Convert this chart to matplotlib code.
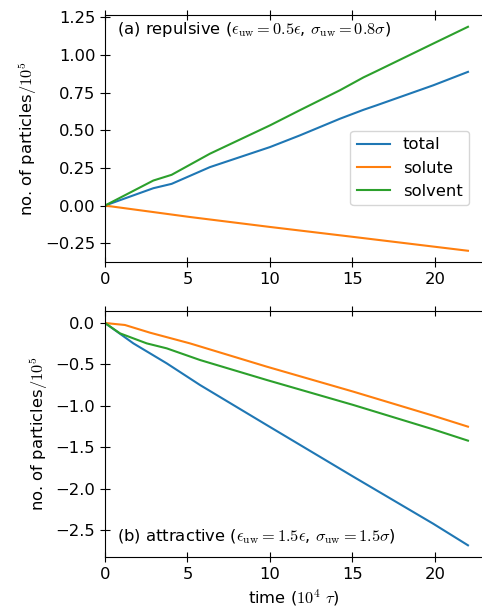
import matplotlib
matplotlib.use('Agg')
import matplotlib.pyplot as plt

plt.rcParams['mathtext.fontset'] = 'cm'
plt.rcParams['font.size'] = 11.8

# (a) repulsive wall
t_rep = [0, 2.93, 4.04, 6.36, 10.0, 11.8, 14.24, 15.66, 16.46, 19.9, 22.0]
total_rep = [0, 0.115, 0.144, 0.255, 0.388, 0.465, 0.576, 0.635, 0.665, 0.798, 0.887]
solvent_rep = [0, 0.166, 0.204, 0.344, 0.532, 0.632, 0.765, 0.850, 0.892, 1.075, 1.186]
t_rep_solute = [0, 5.15, 10.0, 15.05, 22.0]
solute_rep = [0, -0.076, -0.142, -0.208, -0.300]

# (b) attractive wall
t_att_total = [0, 1.72, 3.74, 5.76, 9.8, 15.05, 19.9, 22.0]
total_att = [0, -0.246, -0.487, -0.749, -1.232, -1.856, -2.425, -2.685]
t_att_solute = [0, 1.21, 2.73, 5.15, 9.8, 15.05, 19.9, 22.0]
solute_att = [0, -0.024, -0.117, -0.246, -0.527, -0.829, -1.120, -1.252]
t_att_solvent = [0, 0.91, 2.53, 3.74, 5.76, 9.8, 15.05, 19.9, 22.0]
solvent_att = [0, -0.125, -0.246, -0.306, -0.447, -0.688, -0.990, -1.285, -1.421]

fig = plt.figure(figsize=(4.82, 6.11), dpi=100)
ax1 = fig.add_axes([0.2178, 0.5712, 0.7822, 0.4043])
ax2 = fig.add_axes([0.2178, 0.0884, 0.7822, 0.4026])

ax1.plot(t_rep, total_rep, label='total')
ax1.plot(t_rep_solute, solute_rep, label='solute')
ax1.plot(t_rep, solvent_rep, label='solvent')
ax1.set_ylim(-0.3745, 1.2645)
ax1.set_yticks([-0.25, 0, 0.25, 0.5, 0.75, 1.0, 1.25])
ax1.text(0.032, 0.94, r'(a) repulsive ($\epsilon_{\rm uw}=0.5\epsilon$, $\sigma_{\rm uw}=0.8\sigma$)',
         transform=ax1.transAxes, va='center', ha='left')
ax1.legend(loc='center right', bbox_to_anchor=(0.9655, 0.38), borderaxespad=0)

ax2.plot(t_att_total, total_att)
ax2.plot(t_att_solute, solute_att)
ax2.plot(t_att_solvent, solvent_att)
ax2.set_ylim(-2.826, 0.145)
ax2.set_yticks([-2.5, -2.0, -1.5, -1.0, -0.5, 0.0])
ax2.text(0.032, 0.081, r'(b) attractive ($\epsilon_{\rm uw}=1.5\epsilon$, $\sigma_{\rm uw}=1.5\sigma$)',
         transform=ax2.transAxes, va='center', ha='left')
ax2.set_xlabel(r'time ($10^4\ \tau$)')

for ax in (ax1, ax2):
    ax.set_xlim(0, 22.85)
    ax.set_xticks([0, 5, 10, 15, 20])
    ax.spines['right'].set_visible(False)
    ax.tick_params(direction='inout', length=7, top=True, right=False)
    ax.set_ylabel(r'no. of particles$/10^5$')

fig.savefig('out.png', dpi=100)
